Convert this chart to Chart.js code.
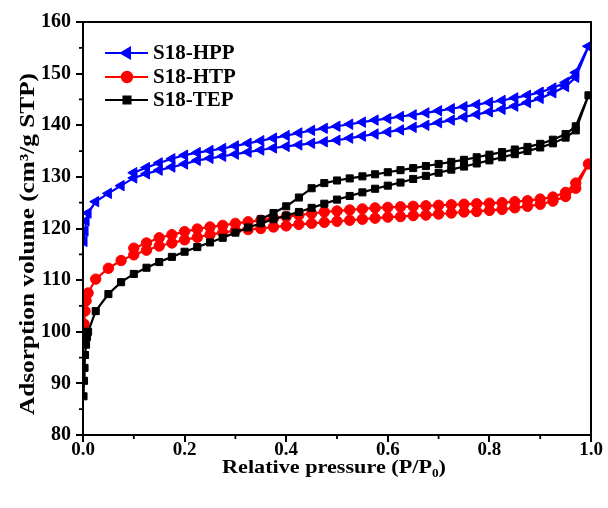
<!DOCTYPE html>
<html><head><meta charset="utf-8">
<script src="https://cdn.jsdelivr.net/npm/chart.js@4.4.0/dist/chart.umd.min.js"></script>
<style>html,body{margin:0;padding:0;background:#fff;}#wrap{width:608px;height:508px;}</style>
</head><body><div id="wrap"><canvas id="c" width="608" height="508"></canvas></div>
<script>
const seriesNames = ['S18-HPP', 'S18-HTP', 'S18-TEP'];
const seriesColors = ['#0000ff', '#ff0000', '#000000'];
const yTitle = 'Adsorption volume (cm³/g STP)';
const xTitle = 'Relative pressure (P/P₀)';

// S18-HPP: adsorption then desorption
const hppP = [0.002,0.004,0.006,0.010,0.025,0.05,0.075,0.1,0.125,0.15,0.175,0.2,0.225,0.25,0.275,0.3,0.325,0.35,0.375,0.4,0.425,0.45,0.475,0.5,0.525,0.55,0.575,0.6,0.625,0.65,0.675,0.7,0.725,0.75,0.775,0.8,0.825,0.85,0.875,0.9,0.925,0.95,0.97,0.995,
  0.97,0.95,0.925,0.9,0.875,0.85,0.825,0.8,0.775,0.75,0.725,0.7,0.675,0.65,0.625,0.6,0.575,0.55,0.525,0.5,0.475,0.45,0.425,0.4,0.375,0.35,0.325,0.3,0.275,0.25,0.225,0.2,0.175,0.15,0.125,0.1];
const hppV = [117.5,119.5,121.5,123.0,125.2,126.8,128.3,129.8,130.6,131.3,131.9,132.5,133.2,133.6,134.0,134.4,134.8,135.2,135.6,135.9,136.2,136.5,136.8,137.1,137.5,137.9,138.3,138.7,139.1,139.6,140.0,140.5,141.0,141.6,142.1,142.6,143.1,143.7,144.4,145.2,146.3,147.5,149.3,155.3,
  150.2,148.3,147.2,146.4,145.8,145.3,144.8,144.4,144.0,143.6,143.2,142.8,142.4,142.0,141.7,141.3,141.0,140.6,140.2,139.8,139.4,139.0,138.5,138.0,137.5,137.0,136.5,136.0,135.5,135.1,134.7,134.2,133.5,132.7,131.8,130.8];

// S18-HTP
const htpP = [0.002,0.004,0.006,0.010,0.025,0.05,0.075,0.1,0.125,0.15,0.175,0.2,0.225,0.25,0.275,0.3,0.325,0.35,0.375,0.4,0.425,0.45,0.475,0.5,0.525,0.55,0.575,0.6,0.625,0.65,0.675,0.7,0.725,0.75,0.775,0.8,0.825,0.85,0.875,0.9,0.925,0.95,0.97,0.995,
  0.97,0.95,0.925,0.9,0.875,0.85,0.825,0.8,0.775,0.75,0.725,0.7,0.675,0.65,0.625,0.6,0.575,0.55,0.525,0.5,0.475,0.45,0.425,0.4,0.375,0.35,0.325,0.3,0.275,0.25,0.225,0.2,0.175,0.15,0.125,0.1];
const htpV = [101.5,104.0,106.0,107.5,110.2,112.3,113.8,114.9,115.8,116.6,117.2,117.8,118.3,118.8,119.2,119.6,119.8,120.0,120.3,120.5,120.8,121.0,121.2,121.4,121.6,121.8,122.0,122.2,122.3,122.5,122.6,122.8,123.0,123.2,123.3,123.5,123.7,124.0,124.3,124.7,125.3,126.2,127.8,132.5,
  128.8,127.0,126.1,125.7,125.4,125.2,125.0,124.9,124.8,124.7,124.6,124.5,124.4,124.3,124.2,124.1,124.0,123.8,123.6,123.4,123.2,122.9,122.6,122.3,122.0,121.6,121.3,121.0,120.6,120.3,119.9,119.4,118.8,118.2,117.2,116.2];

// S18-TEP
const tepP = [0.001,0.002,0.003,0.004,0.006,0.008,0.010,0.025,0.05,0.075,0.1,0.125,0.15,0.175,0.2,0.225,0.25,0.275,0.3,0.325,0.35,0.375,0.4,0.425,0.45,0.475,0.5,0.525,0.55,0.575,0.6,0.625,0.65,0.675,0.7,0.725,0.75,0.775,0.8,0.825,0.85,0.875,0.9,0.925,0.95,0.97,0.995,
  0.97,0.95,0.925,0.9,0.875,0.85,0.825,0.8,0.775,0.75,0.725,0.7,0.675,0.65,0.625,0.6,0.575,0.55,0.525,0.5,0.475,0.45,0.425,0.4,0.375,0.35];
const tepV = [87.5,90.5,93.0,95.5,97.5,99.0,100.0,104.0,107.3,109.6,111.2,112.4,113.5,114.5,115.5,116.4,117.3,118.2,119.2,120.2,121.0,121.8,122.5,123.2,124.0,124.8,125.6,126.3,127.0,127.7,128.3,128.9,129.6,130.2,130.8,131.4,132.0,132.6,133.2,133.8,134.4,135.0,135.7,136.5,137.6,139.0,145.8,
  139.8,138.3,137.2,136.4,135.8,135.3,134.8,134.3,133.8,133.3,132.9,132.5,132.1,131.7,131.3,130.9,130.5,130.1,129.7,129.3,128.8,127.8,126.0,124.3,123.0,121.8];

const yTicks = [80,90,100,110,120,130,140,150,160];
const xTicks = [0.0,0.2,0.4,0.6,0.8,1.0];
const yMinor = [85,95,105,115,125,135,145,155];
const xMinor = [0.1,0.3,0.5,0.7,0.9];

const toPts = (P, V) => P.map((p, i) => ({x: p, y: V[i]}));
const pointStyles = ['triangle', 'circle', 'rect'];
const rotations = [-90, 0, 0];
const radii = [6, 5.2, 5];
const allP = [hppP, htpP, tepP];
const allV = [hppV, htpV, tepV];

const FONT = '"Liberation Serif", "Times New Roman", serif';

function stretchedText(ctx, text, cx, cy, angle, fontPx, targetLen) {
  ctx.save();
  ctx.translate(cx, cy);
  ctx.rotate(angle);
  ctx.font = 'bold ' + fontPx + 'px ' + FONT;
  const w = ctx.measureText(text).width;
  ctx.scale(targetLen / w, 1);
  ctx.textAlign = 'center';
  ctx.textBaseline = 'middle';
  ctx.fillStyle = '#000';
  ctx.fillText(text, 0, 0);
  ctx.restore();
}

const frame = {
  id: 'frame',
  afterDraw(chart) {
    const {ctx, chartArea: a, scales} = chart;
    ctx.save();
    ctx.strokeStyle = '#000';
    ctx.lineWidth = 2;
    ctx.strokeRect(a.left, a.top, a.right - a.left, a.bottom - a.top);
    ctx.lineWidth = 1.8;
    ctx.beginPath();
    yMinor.forEach(v => { const y = scales.y.getPixelForValue(v); ctx.moveTo(a.left, y); ctx.lineTo(a.left - 4, y); });
    xMinor.forEach(v => { const x = scales.x.getPixelForValue(v); ctx.moveTo(x, a.bottom); ctx.lineTo(x, a.bottom + 4); });
    ctx.stroke();
    // axis titles
    stretchedText(ctx, yTitle, 29, 244, -Math.PI / 2, 21, 342);
    stretchedText(ctx, xTitle, (a.left + a.right) / 2 - 3, 468, 0, 19, 224);
    // legend
    const rows = [53, 77, 100];
    ctx.font = 'bold 21px ' + FONT;
    ctx.textBaseline = 'middle';
    rows.forEach((y, i) => {
      ctx.strokeStyle = seriesColors[i];
      ctx.lineWidth = 2;
      ctx.beginPath(); ctx.moveTo(105, y); ctx.lineTo(148, y); ctx.stroke();
      ctx.fillStyle = seriesColors[i];
      Chart.helpers.drawPoint(ctx, {pointStyle: pointStyles[i], radius: radii[i], rotation: rotations[i], borderWidth: 1}, 127, y);
      ctx.fill();
      ctx.fillStyle = '#000';
      ctx.textAlign = 'left';
      ctx.fillText(seriesNames[i], 153, y + 1);
    });
    ctx.restore();
  }
};

new Chart(document.getElementById('c'), {
  type: 'scatter',
  data: {
    datasets: seriesNames.map((n, i) => ({
      label: n,
      data: toPts(allP[i], allV[i]),
      showLine: true,
      borderColor: seriesColors[i],
      backgroundColor: seriesColors[i],
      borderWidth: 2.2,
      pointStyle: pointStyles[i],
      pointRotation: rotations[i],
      pointRadius: radii[i],
      pointBorderWidth: 1,
      tension: 0,
      order: 2 - i
    }))
  },
  options: {
    responsive: false,
    animation: false,
    events: [],
    layout: {padding: {top: 22, right: 17, left: 0, bottom: 0}},
    plugins: {legend: {display: false}, tooltip: {enabled: false}},
    scales: {
      x: {
        type: 'linear', min: 0, max: 1,
        afterBuildTicks: s => { s.ticks = xTicks.map(v => ({value: v})); },
        afterFit: s => { s.height = 73; },
        ticks: {color: '#000', font: {family: FONT, size: 19, weight: 'bold'}, padding: -3, maxRotation: 0,
          callback: v => Number(v).toFixed(1)},
        grid: {drawOnChartArea: false, tickLength: 7, color: '#000', lineWidth: 2},
        border: {display: false},
        title: {display: false}
      },
      y: {
        type: 'linear', min: 80, max: 160,
        afterBuildTicks: s => { s.ticks = yTicks.map(v => ({value: v})); },
        afterFit: s => { s.width = 83; },
        ticks: {color: '#000', font: {family: FONT, size: 20, weight: 'bold'}, padding: 5},
        grid: {drawOnChartArea: false, tickLength: 7, color: '#000', lineWidth: 2},
        border: {display: false},
        title: {display: false}
      }
    }
  },
  plugins: [frame]
});
</script></body></html>
